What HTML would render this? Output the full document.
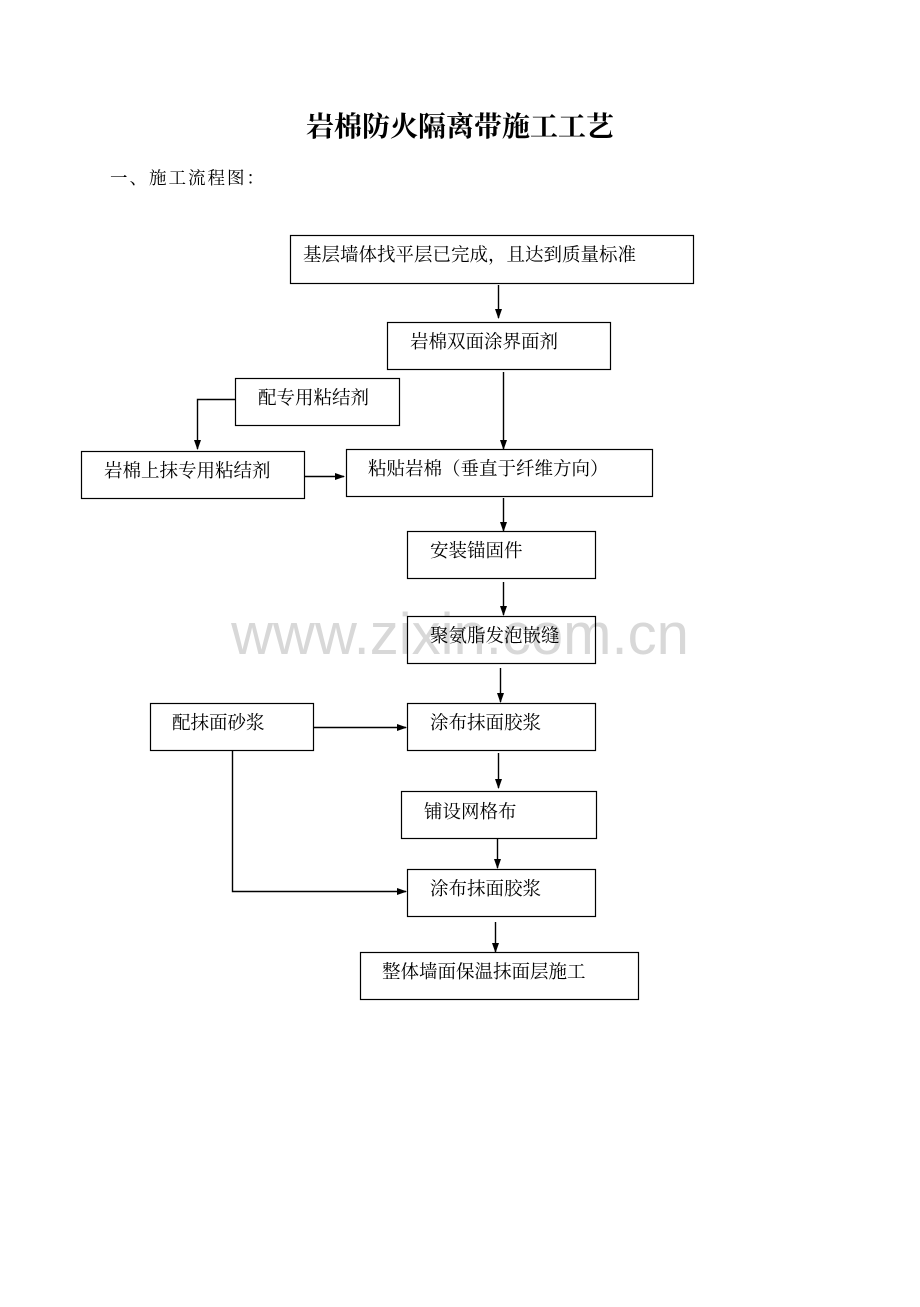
<!DOCTYPE html>
<html><head><meta charset="utf-8"><style>
body{margin:0;background:#fff;}
svg text{font-family:"Noto Serif CJK SC","Liberation Serif",serif;}
</style></head><body>
<svg width="920" height="1302" viewBox="0 0 920 1302" xmlns="http://www.w3.org/2000/svg">
<defs><marker id="a" markerWidth="10" markerHeight="10" refX="9" refY="5" orient="auto" markerUnits="userSpaceOnUse"><path d="M0,1.5 L10,5 L0,8.5 Z" fill="#000"/></marker></defs>
<text x="460" y="136" text-anchor="middle" font-size="28" font-weight="bold">岩棉防火隔离带施工工艺</text>
<text x="110" y="184" font-size="17.5" letter-spacing="2">一、施工流程图：</text>
<text x="460" y="654" text-anchor="middle" font-size="58" fill="#d8d8d8" style="font-family:'Liberation Sans',sans-serif">www.zixin.com.cn</text>
<g fill="none" stroke="#000" stroke-width="1.2">
<rect x="290.5" y="235.5" width="403" height="48"/>
<rect x="387.5" y="322.5" width="223" height="47"/>
<rect x="235.5" y="378.5" width="164" height="47"/>
<rect x="81.5" y="451.5" width="223" height="47"/>
<rect x="346.5" y="449.5" width="306" height="47"/>
<rect x="407.5" y="531.5" width="188" height="47"/>
<rect x="407.5" y="616.5" width="188" height="47"/>
<rect x="150.5" y="703.5" width="163" height="47"/>
<rect x="407.5" y="703.5" width="188" height="47"/>
<rect x="401.5" y="791.5" width="195" height="47"/>
<rect x="407.5" y="869.5" width="188" height="47"/>
<rect x="360.5" y="952.5" width="278" height="47"/>
</g>
<g stroke="#000" stroke-width="1.4" fill="none">
<line x1="498.5" y1="285" x2="498.5" y2="318" marker-end="url(#a)"/>
<line x1="503.5" y1="372" x2="503.5" y2="449" marker-end="url(#a)"/>
<polyline points="235,399.5 197.5,399.5 197.5,449" marker-end="url(#a)"/>
<line x1="304" y1="476.5" x2="344" y2="476.5" marker-end="url(#a)"/>
<line x1="503.5" y1="498" x2="503.5" y2="531" marker-end="url(#a)"/>
<line x1="503.5" y1="582" x2="503.5" y2="615" marker-end="url(#a)"/>
<line x1="500.5" y1="668" x2="500.5" y2="702" marker-end="url(#a)"/>
<line x1="313" y1="727.5" x2="406" y2="727.5" marker-end="url(#a)"/>
<line x1="498.5" y1="753" x2="498.5" y2="788" marker-end="url(#a)"/>
<line x1="497.5" y1="838" x2="497.5" y2="868" marker-end="url(#a)"/>
<polyline points="232.5,750 232.5,891.5 406,891.5" marker-end="url(#a)"/>
<line x1="495.5" y1="922" x2="495.5" y2="952" marker-end="url(#a)"/>
</g>
<g font-size="18.5">
<text x="303" y="261">基层墙体找平层已完成，且达到质量标准</text>
<text x="410" y="348">岩棉双面涂界面剂</text>
<text x="258" y="404">配专用粘结剂</text>
<text x="104" y="477">岩棉上抹专用粘结剂</text>
<text x="368" y="475">粘贴岩棉（垂直于纤维方向）</text>
<text x="430" y="557">安装锚固件</text>
<text x="430" y="642">聚氨脂发泡嵌缝</text>
<text x="172" y="729">配抹面砂浆</text>
<text x="430" y="729">涂布抹面胶浆</text>
<text x="424" y="818">铺设网格布</text>
<text x="430" y="895">涂布抹面胶浆</text>
<text x="382" y="978">整体墙面保温抹面层施工</text>
</g>
</svg>
</body></html>
